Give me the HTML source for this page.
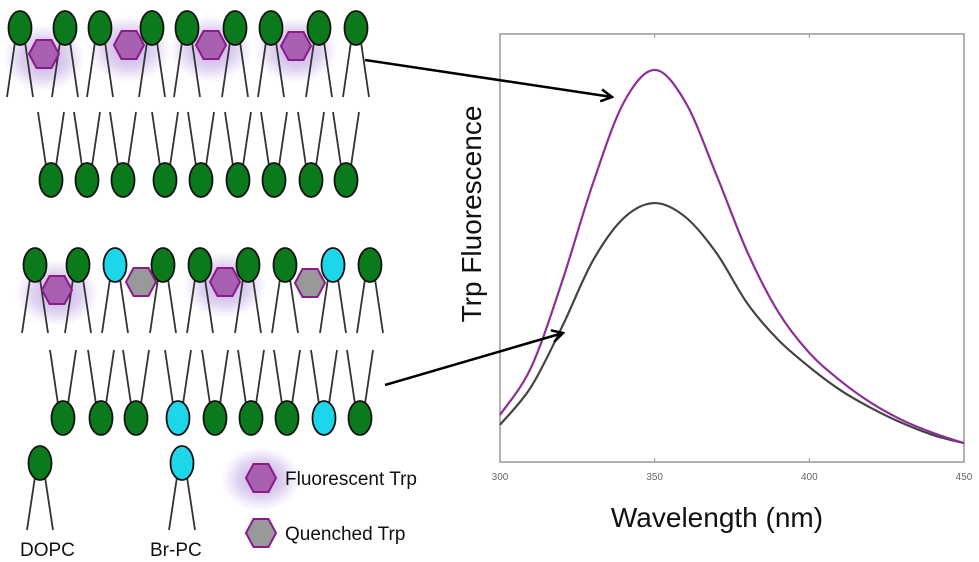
<!DOCTYPE html>
<html><head><meta charset="utf-8"><style>
html,body{margin:0;padding:0;background:#fff;width:979px;height:562px;overflow:hidden}
svg{display:block}
text{font-family:"Liberation Sans",sans-serif}
</style></head><body>
<svg id="fig" width="979" height="562" viewBox="0 0 979 562" xmlns="http://www.w3.org/2000/svg">
<defs>
<radialGradient id="glow"><stop offset="0" stop-color="#8a5cc8" stop-opacity="0.55"/><stop offset="0.6" stop-color="#9a70d0" stop-opacity="0.3"/><stop offset="1" stop-color="#b090e0" stop-opacity="0"/></radialGradient>
<marker id="ah" markerWidth="14" markerHeight="14" refX="12" refY="7" orient="auto" markerUnits="userSpaceOnUse"><path d="M1,1 L12,7 L1,13" fill="none" stroke="#000" stroke-width="2.5"/></marker>
</defs>
<g id="diagram"></g>
<g id="chart"></g>
<line x1="365" y1="60" x2="612" y2="97" stroke="#000" stroke-width="2.5" marker-end="url(#ah)"/>
<line x1="385" y1="385" x2="563" y2="333" stroke="#000" stroke-width="2.5" marker-end="url(#ah)"/>
</svg>
<script>
const NS='http://www.w3.org/2000/svg';
function mk(parent,tag,attrs){const e=document.createElementNS(NS,tag);for(const k in attrs)e.setAttribute(k,attrs[k]);parent.appendChild(e);return e;}
const D=document.getElementById('diagram');
const GREEN='#0b7a1c', CYAN='#1ed6ea';
function glow(x,y,r){const e=mk(D,'ellipse',{cx:x,cy:y,rx:r,ry:r*0.8,fill:'url(#glow)'});

}
function hex(x,y,fill){const w=15,h=14;const p=[[x-w,y],[x-w/2,y-h],[x+w/2,y-h],[x+w,y],[x+w/2,y+h],[x-w/2,y+h]].map(a=>a.join(',')).join(' ');
const e=mk(D,'polygon',{points:p,fill:fill,stroke:'#8b1a8b','stroke-width':2});

}
function lipidUp(x,hy,ty,col){
 mk(D,'line',{x1:x-5,y1:hy+14,x2:x-13,y2:ty,stroke:'#333','stroke-width':1.8});
 mk(D,'line',{x1:x+5,y1:hy+14,x2:x+13,y2:ty,stroke:'#333','stroke-width':1.8});
 const e=mk(D,'ellipse',{cx:x,cy:hy,rx:11.5,ry:17,fill:col,stroke:'#111','stroke-width':1.8});
 
 }
function lipidDown(x,hy,ty,col){
 mk(D,'line',{x1:x-5,y1:hy-14,x2:x-13,y2:ty,stroke:'#333','stroke-width':1.8});
 mk(D,'line',{x1:x+5,y1:hy-14,x2:x+13,y2:ty,stroke:'#333','stroke-width':1.8});
 const e=mk(D,'ellipse',{cx:x,cy:hy,rx:11.5,ry:17,fill:col,stroke:'#111','stroke-width':1.8});
 
 }
[[44,54],[129,45],[211,45],[296,46]].forEach(p=>glow(p[0],p[1]+4,42));
[20,65,100,152,187,235,271,319,356].forEach(x=>lipidUp(x,28,97,GREEN));
[51,87,123,165,201,238,274,311,346].forEach(x=>lipidDown(x,180,112,GREEN));
[[44,54],[129,45],[211,45],[296,46]].forEach(p=>hex(p[0],p[1],'#a860b0'));
glow(57,293,42);glow(225,285,42);
const bt=[35,78,115,163,200,248,285,333,370], btc=[0,0,1,0,0,0,0,1,0];
bt.forEach((x,i)=>lipidUp(x,265,333,btc[i]?CYAN:GREEN));
const bb=[63,101,136,178,215,251,287,324,360], bbc=[0,0,0,1,0,0,0,1,0];
bb.forEach((x,i)=>lipidDown(x,418,350,bbc[i]?CYAN:GREEN));
hex(57,290,'#a860b0');hex(141,282,'#999');hex(225,282,'#a860b0');hex(310,283,'#999');
lipidUp(40,463,530,GREEN);lipidUp(182,463,530,CYAN);
glow(261,479,40);hex(261,478,'#a860b0');hex(261,533,'#999');
function txt(p,x,y,s,size,name,extra){const t=mk(p,'text',Object.assign({x:x,y:y,'font-size':size,fill:'#111'},extra||{}));t.textContent=s;

return t;}
txt(D,20,556,'DOPC',19,'dopc-label');
txt(D,150,556,'Br-PC',19,'br-pc-label');
txt(D,285,485,'Fluorescent Trp',19,'legend-fluorescent-label');
txt(D,285,540,'Quenched Trp',19,'legend-quenched-label');

// ===== chart =====
const wavelengths=[300,310,320,330,340,350,360,370,380,390,400,410,420,430,440,450];
const unquenched=[0.11,0.22,0.42,0.65,0.84,0.916,0.84,0.67,0.49,0.35,0.255,0.19,0.138,0.098,0.068,0.044];
const quenched=[0.087,0.175,0.315,0.47,0.57,0.605,0.572,0.488,0.37,0.285,0.222,0.168,0.126,0.091,0.063,0.044];
const xTicks=[300,350,400,450];
const C=document.getElementById('chart');
const L=500,R=964,T=34,B=462;
const xs=v=>L+(v-300)/150*(R-L);
const ys=v=>B-v*(B-T);
const frame=mk(C,'rect',{x:L,y:T,width:R-L,height:B-T,fill:'none',stroke:'#999','stroke-width':1.5});


xTicks.forEach(t=>{
 mk(C,'line',{x1:xs(t),y1:B,x2:xs(t),y2:B-4,stroke:'#999'});
 mk(C,'line',{x1:xs(t),y1:T,x2:xs(t),y2:T+4,stroke:'#999'});
 txt(C,xs(t),480,String(t),10,'x-tick-label',{'text-anchor':'middle',fill:'#666'});
});
function path(vals){const P=wavelengths.map((w,i)=>[xs(w),ys(vals[i])]);let d='M'+P[0].join(',');
 for(let i=0;i<P.length-1;i++){const p0=P[Math.max(0,i-1)],p1=P[i],p2=P[i+1],p3=P[Math.min(P.length-1,i+2)];
  const c1=[p1[0]+(p2[0]-p0[0])/6,p1[1]+(p2[1]-p0[1])/6],c2=[p2[0]-(p3[0]-p1[0])/6,p2[1]-(p3[1]-p1[1])/6];
  d+=' C'+c1.join(',')+' '+c2.join(',')+' '+p2.join(',');}
 return d;}
const g1=mk(C,'path',{d:path(quenched),fill:'none',stroke:'#444','stroke-width':2.2});


const g2=mk(C,'path',{d:path(unquenched),fill:'none',stroke:'#8e2f96','stroke-width':2.2});


txt(C,717,527,'Wavelength (nm)',28,'x-axis-title',{'text-anchor':'middle'});
txt(C,481,214,'Trp Fluorescence',28,'y-axis-title',{'text-anchor':'middle',transform:'rotate(-90 481 214)'});
</script>
</body></html>
